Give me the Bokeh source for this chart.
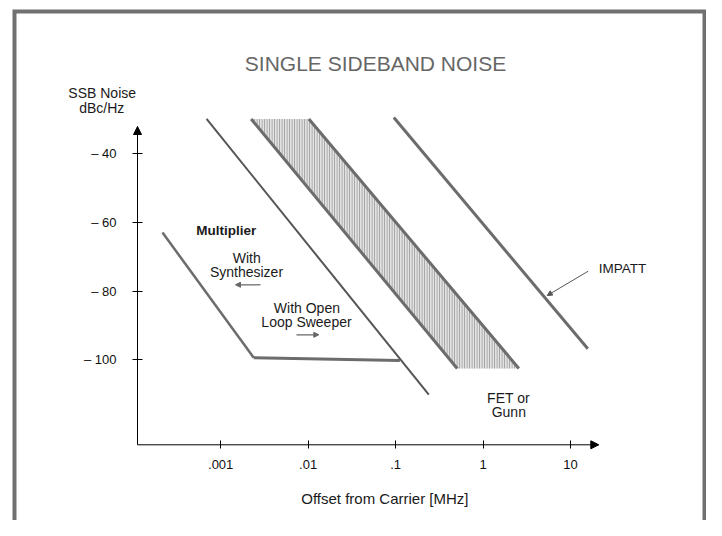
from bokeh.plotting import figure
from bokeh.models import (Range1d, LinearAxis, LogAxis, FixedTicker, Label, Arrow,
                          NormalHead, CustomJSTickFormatter)
from bokeh.embed import file_html
from bokeh.resources import INLINE

# ---------------- data ----------------
# Multiplier with synthesizer
synth_x = [2.16e-4, 2.39e-3]
synth_y = [-63.0, -99.4]
# Multiplier with open loop sweeper (flat floor + steep roll-off)
floor_x = [2.39e-3, 0.112]
floor_y = [-99.4, -100.2]
sweeper_x = [6.9e-4, 0.24]
sweeper_y = [-30.0, -110.1]
# FET or Gunn band (left and right edges)
fet_left_x = [2.23e-3, 0.507]
fet_right_x = [0.0102, 2.57]
fet_y = [-30.0, -102.5]
# IMPATT
impatt_x = [0.0955, 15.8]
impatt_y = [-29.6, -96.8]

x_ticks = [0.001, 0.01, 0.1, 1, 10]
x_tick_labels = [".001", ".01", ".1", "1", "10"]
y_ticks = [-40, -60, -80, -100]
y_tick_labels = ["\u2013 40", "\u2013 60", "\u2013 80", "\u2013 100"]

# ---------------- layout helpers (picture pixels -> data) ----------------
W, H = 706, 520
def X(px):
    return 10 ** (-1 + (px - 395.06) / 87.44)
def Y(py):
    return -70 + (256.1 - py) / 3.441

FONT = "Liberation Sans"
GRAY = "#6c6c6c"

p = figure(width=W, height=H, x_axis_type="log",
           x_range=Range1d(X(0), X(W)), y_range=Range1d(Y(H), Y(0)),
           x_axis_location=None, y_axis_location=None,
           toolbar_location=None, output_backend="svg",
           min_border=0, min_border_left=0, min_border_right=0,
           min_border_top=0, min_border_bottom=0,
           outline_line_color=None, background_fill_color="white",
           border_fill_color="white")
p.grid.visible = False

X_ORIGIN = X(137)
Y_ORIGIN = Y(444.3)

# axes (placed inside the frame)
yfmt = CustomJSTickFormatter(args=dict(tvals=y_ticks, tlabs=y_tick_labels), code="""
    const i = tvals.findIndex(t => Math.abs(t - tick) < 1e-6);
    return i >= 0 ? tlabs[i] : '';
""")
yaxis = LinearAxis(fixed_location=X_ORIGIN, ticker=FixedTicker(ticks=y_ticks),
                   formatter=yfmt, axis_line_color=None,
                   major_tick_in=5, major_tick_out=5, minor_tick_line_color=None,
                   major_tick_line_color="black", major_tick_line_width=1,
                   major_label_standoff=16, major_label_text_font=FONT,
                   major_label_text_font_size="13px", major_label_text_color="#111111")
p.add_layout(yaxis, "left")

xfmt = CustomJSTickFormatter(args=dict(tvals=x_ticks, tlabs=x_tick_labels), code="""
    const i = tvals.findIndex(t => Math.abs(Math.log10(t) - Math.log10(tick)) < 1e-6);
    return i >= 0 ? tlabs[i] : '';
""")
xaxis = LogAxis(fixed_location=Y_ORIGIN, ticker=FixedTicker(ticks=x_ticks),
                formatter=xfmt, axis_line_color=None,
                major_tick_in=4, major_tick_out=4, minor_tick_line_color=None,
                major_tick_line_color="black", major_tick_line_width=1,
                major_label_standoff=11, major_label_text_font=FONT,
                major_label_text_font_size="13px", major_label_text_color="#111111")
p.add_layout(xaxis, "below")

# axis lines with arrow heads
p.add_layout(Arrow(end=NormalHead(size=8, fill_color="black", line_color="black"),
                   x_start=X_ORIGIN, y_start=Y_ORIGIN, x_end=X_ORIGIN, y_end=Y(126),
                   line_color="black", line_width=1))
p.add_layout(Arrow(end=NormalHead(size=8, fill_color="black", line_color="black"),
                   x_start=X_ORIGIN, y_start=Y_ORIGIN, x_end=X(598.3), y_end=Y_ORIGIN,
                   line_color="black", line_width=1))

# outer frame of the figure
p.line(x=[X(14), X(14), X(704), X(704)], y=[Y(560), Y(11), Y(11), Y(560)],
       line_width=4, line_color="#707070", line_join="miter")

# FET / Gunn band
p.patch(x=[fet_left_x[0], fet_right_x[0], fet_right_x[1], fet_left_x[1]],
        y=[fet_y[0], fet_y[0], fet_y[1], fet_y[1]],
        fill_color="#e2e2e2", hatch_pattern="vertical_line", hatch_color="#999999",
        hatch_scale=2.5, hatch_weight=1, line_color=None)
p.line(fet_left_x, fet_y, line_width=3, line_color=GRAY)
p.line(fet_right_x, fet_y, line_width=3, line_color=GRAY)

# multiplier lines
p.line(synth_x, synth_y, line_width=2.5, line_color=GRAY)
p.line(floor_x, floor_y, line_width=3, line_color=GRAY)
p.line(sweeper_x, sweeper_y, line_width=2, line_color="#555555")

# IMPATT
p.line(impatt_x, impatt_y, line_width=3, line_color=GRAY)

# small pointer arrows
p.add_layout(Arrow(end=NormalHead(size=5, fill_color="#555555", line_color="#555555"),
                   x_start=X(587.7), y_start=Y(270.7), x_end=X(546.7), y_end=Y(295),
                   line_color="#555555", line_width=1))
p.add_layout(Arrow(end=NormalHead(size=5, fill_color="#666666", line_color="#666666"),
                   x_start=X(260), y_start=Y(284.3), x_end=X(235), y_end=Y(284.3),
                   line_color="#666666", line_width=1.2))
p.add_layout(Arrow(end=NormalHead(size=5, fill_color="#666666", line_color="#666666"),
                   x_start=X(296), y_start=Y(334.3), x_end=X(318.3), y_end=Y(334.3),
                   line_color="#666666", line_width=1.2))

# texts
def lab(text, px, py, size="14px", align="center", color="#1a1a1a", style="normal"):
    p.add_layout(Label(x=X(px), y=Y(py), text=text, text_font=FONT, text_font_size=size,
                       text_align=align, text_baseline="middle", text_color=color,
                       text_font_style=style))

lab("SINGLE SIDEBAND NOISE", 375, 62.5, size="21px", color="#666666")
lab("SSB Noise", 101.7, 92.8)
lab("dBc/Hz", 101.2, 107)
lab("Multiplier", 195.7, 230, size="13.5px", align="left", style="bold")
lab("With", 246.2, 257)
lab("Synthesizer", 246, 271.5)
lab("With Open", 306.4, 307)
lab("Loop Sweeper", 306, 321.3)
lab("FET or", 508, 397.8)
lab("Gunn", 508.3, 411.7)
lab("IMPATT", 598.3, 267.8, size="13.5px", align="left")
lab("Offset from Carrier [MHz]", 384.4, 498, size="15px")

open("out.html", "w").write(file_html(p, INLINE))
